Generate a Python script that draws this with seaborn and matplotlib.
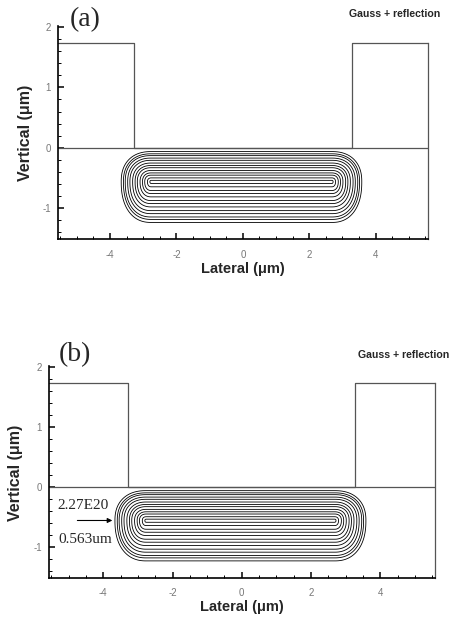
import numpy as np
import matplotlib
matplotlib.use("Agg")
import matplotlib.pyplot as plt
from matplotlib.ticker import MultipleLocator, FixedLocator
import pandas as pd
import seaborn as sns

# ---------------- data ----------------
lateral_ticks = [-4, -2, 0, 2, 4]
vertical_ticks = [-1, 0, 1, 2]
x_range = [-5.57, 5.58]
y_range = [-1.52, 2.02]
mask_left_edge = -3.29
mask_right_edge = 3.28
mask_height = 1.73
peak_conc = 2.27e20          # cm^-3
peak_depth = 0.563           # um
profile_center_x = -0.04
flat_half_length = 2.72
lateral_spread = 0.87
vertical_spread_up = 0.48
vertical_spread_down = 0.65
decades_span = 3.9
corner_shape = 2.3
contour_levels = [2e16, 4e16, 7e16, 1.5e17, 3e17, 7e17, 1.5e18, 3e18,
                  7e18, 1.5e19, 3e19, 7e19, 1.5e20]
panel_labels = ["(a)", "(b)"]
model_title = "Gauss + reflection"
annot_conc = "2.27E20"
annot_depth = "0.563um"

# ---------------- style ----------------
sns.set_style("ticks")
plt.rcParams["font.family"] = ["Liberation Sans", "DejaVu Sans"]
plt.rcParams["axes.unicode_minus"] = False

fig = plt.figure(figsize=(4.57, 6.17), dpi=100)
axes_boxes = [[0.1269, 0.612, 0.8096, 0.346],
              [0.1072, 0.0637, 0.8446, 0.343]]
label_pos = [(0.186, 0.968), (0.164, 0.426)]
title_pos = [(0.963, 0.977), (0.982, 0.425)]
ylabel_x = [-0.089, -0.088]

# concentration field (Gaussian vertical profile with surface reflection, masked lateral edge)
xg = np.linspace(x_range[0], x_range[1], 1000)
yg = np.linspace(y_range[0], 0, 500)
X, Y = np.meshgrid(xg, yg)
dxn = np.clip(np.abs(X - profile_center_x) - flat_half_length, 0, None) / lateral_spread
dyv = Y + peak_depth
dyn = np.where(dyv > 0, dyv / vertical_spread_up, -dyv / vertical_spread_down)
rr = (dxn ** corner_shape + dyn ** corner_shape) ** (1 / corner_shape)
conc = peak_conc * 10 ** (-decades_span * rr)

mask_df = pd.DataFrame({
    "x": [x_range[0], mask_left_edge, mask_left_edge, mask_right_edge, mask_right_edge, x_range[1]],
    "y": [mask_height, mask_height, 0, 0, mask_height, mask_height],
})

for i, box in enumerate(axes_boxes):
    ax = fig.add_axes(box)
    ax.set_xlim(x_range)
    ax.set_ylim(y_range)

    ax.contour(X, Y, conc, levels=contour_levels, colors="black", linewidths=0.6)

    sns.lineplot(data=mask_df, x="x", y="y", sort=False, estimator=None,
                 color="#555555", lw=0.9, ax=ax, clip_on=False)
    ax.axhline(0, color="#555555", lw=0.9)

    ax.spines["top"].set_visible(False)
    ax.spines["right"].set_bounds(y_range[0], mask_height)
    ax.spines["right"].set_color("#555555")
    ax.spines["right"].set_linewidth(0.9)
    ax.spines["left"].set_linewidth(1.2)
    ax.spines["bottom"].set_linewidth(1.2)
    ax.spines["left"].set_color("black")
    ax.spines["bottom"].set_color("black")

    ax.xaxis.set_major_locator(FixedLocator(lateral_ticks))
    ax.xaxis.set_minor_locator(MultipleLocator(0.5))
    ax.yaxis.set_major_locator(FixedLocator(vertical_ticks))
    ax.yaxis.set_minor_locator(MultipleLocator(0.2))
    ax.tick_params(which="both", direction="in", right=False, top=False,
                   colors="black", labelcolor="#777777")
    ax.tick_params(which="major", length=4, width=1.1, labelsize=7)
    ax.tick_params(which="minor", length=2, width=0.7)
    ax.tick_params(axis="x", which="major", pad=7.5)
    ax.tick_params(axis="y", which="major", pad=5)
    for lab in ax.get_xticklabels() + ax.get_yticklabels():
        lab.set_family(["Liberation Sans Narrow", "Liberation Sans"])

    ax.set_xlabel("Lateral (μm)", fontsize=10.5, fontweight="bold",
                  family=["Liberation Sans Narrow", "Liberation Sans"], va="center")
    ax.xaxis.set_label_coords(0.5, -0.137)
    ax.set_ylabel("Vertical (μm)", fontsize=11.5, fontweight="bold", va="center")
    ax.yaxis.set_label_coords(ylabel_x[i], 0.497)

    fig.text(*label_pos[i], panel_labels[i], fontsize=20, family="Liberation Serif",
             ha="center", va="center")
    fig.text(*title_pos[i], model_title, fontsize=7.6, fontweight="bold",
             family=["Liberation Sans Narrow", "Liberation Sans"], ha="right", va="center")

    if i == 1:
        ax.text(-5.33, -0.31, annot_conc, fontsize=11, family="Liberation Serif",
                ha="left", va="center")
        ax.annotate("", xy=(-3.74, -peak_depth), xytext=(-4.75, -peak_depth),
                    arrowprops=dict(arrowstyle="-|>", color="black", lw=0.8,
                                    mutation_scale=7, shrinkA=0, shrinkB=0))
        ax.text(-5.30, -0.876, annot_depth, fontsize=11, family="Liberation Serif",
                ha="left", va="center")

fig.savefig("out.png", dpi=100)
